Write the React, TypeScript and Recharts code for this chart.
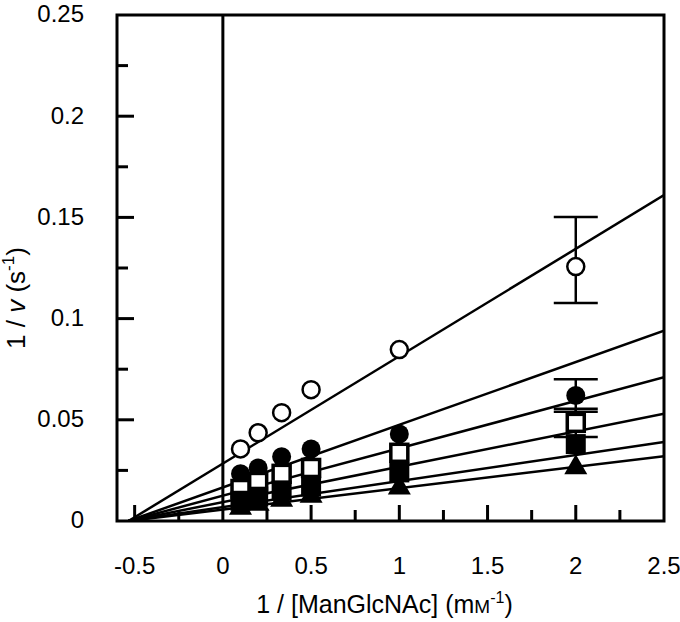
import React from "react";
import { ComposedChart, Line, Scatter, ErrorBar, XAxis, YAxis, ReferenceLine, ReferenceArea } from "recharts";

// substrate concentrations, 1/[S] (mM^-1)
const invS = [0.1, 0.2, 0.333, 0.5, 1, 2];

// 1/v for each inhibitor level (null = error bar hidden by the marker)
// errors are [below, above]
const openCircle = [0.0356, 0.0436, 0.0535, 0.0649, 0.0847, 0.1257];
const openCircleErr = [null, null, null, null, null, [0.018, 0.0245]];
const filledCircle = [0.0233, 0.0262, 0.0317, 0.0356, 0.043, 0.062];
const filledCircleErr = [null, null, null, null, null, [0.008, 0.008]];
const openSquare = [0.0158, 0.0193, 0.0233, 0.0262, 0.0337, 0.0485];
const openSquareErr = [null, null, null, null, null, [0.007, 0.007]];
const filledSquare = [0.01, 0.012, 0.015, 0.017, 0.024, 0.038];
const filledSquareErr = [null, null, null, null, null, null];
const triangle = [0.007, 0.009, 0.011, 0.013, 0.017, 0.027];
const triangleErr = [null, null, null, null, null, null];

// fitted lines: common x-intercept and value at the right edge
const fitXStart = -0.535;
const fitXEnd = 2.5;
const fitEnds = [0.161, 0.094, 0.071, 0.053, 0.039, 0.032];

const xTicks = [-0.5, -0.25, 0, 0.25, 0.5, 0.75, 1, 1.25, 1.5, 1.75, 2, 2.25, 2.5];
const yTicks = [0, 0.025, 0.05, 0.075, 0.1, 0.125, 0.15, 0.175, 0.2, 0.225, 0.25];

const FONT = "'Liberation Sans', Arial, sans-serif";

const toPoints = (ys: number[], errs: any[]) => ys.map((y, i) => ({ x: invS[i], y, err: errs[i] }));

const fitData = fitEnds.map((end) => [
  { x: fitXStart, y: 0 },
  { x: fitXEnd, y: end },
]);

const isMajor = (v: number, step: number) => Math.abs(v / step - Math.round(v / step)) < 1e-6;

const XTick = (props: any) => {
  const { x, y, payload } = props;
  const v = payload.value;
  const major = isMajor(v, 0.5);
  const drawLine = Math.abs(v) > 1e-6 && v < 2.49;
  return (
    <g>
      {drawLine && <line x1={x} x2={x} y1={y} y2={y - (major ? 16 : 11)} stroke="#000" strokeWidth={3} />}
      {major && (
        <text x={x} y={y + 45} textAnchor="middle" dy="0.35em" fontSize={24} fontFamily={FONT} fill="#000">
          {String(v)}
        </text>
      )}
    </g>
  );
};

const YTick = (props: any) => {
  const { x, y, payload } = props;
  const v = payload.value;
  const major = isMajor(v, 0.05);
  const drawLine = v > 1e-6 && v < 0.249;
  return (
    <g>
      {drawLine && <line x1={x} x2={x + (major ? 17 : 11)} y1={y} y2={y} stroke="#000" strokeWidth={3} />}
      {major && (
        <text x={x - 33} y={y - 1} textAnchor="end" dy="0.35em" fontSize={24} fontFamily={FONT} fill="#000">
          {String(v)}
        </text>
      )}
    </g>
  );
};

const XTitle = (props: any) => {
  const vb = props.viewBox;
  return (
    <text x={vb.x + vb.width / 2 - 6} y={vb.y + 83} textAnchor="middle" dy="0.35em" fontSize={25} fontFamily={FONT} fill="#000">
      1 / [ManGlcNAc] (m<tspan fontSize={19}>M</tspan>
      <tspan fontSize={16} dy={-10}>-1</tspan>
      <tspan dy={10}>)</tspan>
    </text>
  );
};

const YTitle = () => {
  const cx = 16;
  const cy = 298;
  return (
    <text x={cx} y={cy} transform={`rotate(-90 ${cx} ${cy})`} textAnchor="middle" dy="0.35em" fontSize={26} fontFamily={FONT} fill="#000">
      1 / <tspan fontStyle="italic">v</tspan> (s<tspan fontSize={17} dy={-11}>-1</tspan>
      <tspan dy={11}>)</tspan>
    </text>
  );
};

const OpenCircle = (p: any) => <circle cx={p.cx} cy={p.cy} r={8.5} fill="#fff" stroke="#000" strokeWidth={2.5} />;
const FilledCircle = (p: any) => <circle cx={p.cx} cy={p.cy} r={9.5} fill="#000" />;
const OpenSquare = (p: any) => (
  <rect x={p.cx - 8.5} y={p.cy - 8.5} width={17} height={17} fill="#fff" stroke="#000" strokeWidth={3.5} />
);
const FilledSquare = (p: any) => <rect x={p.cx - 10} y={p.cy - 10} width={20} height={20} fill="#000" />;
const Triangle = (p: any) => (
  <polygon points={`${p.cx},${p.cy - 12} ${p.cx + 11.5},${p.cy + 8} ${p.cx - 11.5},${p.cy + 8}`} fill="#000" />
);

const series = [
  { name: "open circle", data: toPoints(openCircle, openCircleErr), shape: OpenCircle },
  { name: "filled circle", data: toPoints(filledCircle, filledCircleErr), shape: FilledCircle },
  { name: "open square", data: toPoints(openSquare, openSquareErr), shape: OpenSquare },
  { name: "filled square", data: toPoints(filledSquare, filledSquareErr), shape: FilledSquare },
  { name: "triangle", data: toPoints(triangle, triangleErr), shape: Triangle },
];

export default function App() {
  return (
    <div style={{ position: "absolute", left: 0, top: 0, width: 680, height: 622, background: "#fff" }}>
      <ComposedChart width={680} height={622} margin={{ top: 15, right: 16, bottom: 0, left: 0 }}>
        <XAxis
          type="number"
          dataKey="x"
          domain={[-0.6, 2.5]}
          ticks={xTicks}
          interval={0}
          allowDataOverflow
          height={101}
          axisLine={false}
          tickLine={false}
          tickSize={0}
          tickMargin={0}
          tick={<XTick />}
          label={{ content: <XTitle /> }}
        />
        <YAxis
          type="number"
          dataKey="y"
          domain={[0, 0.25]}
          ticks={yTicks}
          interval={0}
          allowDataOverflow
          width={117}
          axisLine={false}
          tickLine={false}
          tickSize={0}
          tickMargin={0}
          tick={<YTick />}
          label={{ content: <YTitle /> }}
        />
        <ReferenceLine x={0} stroke="#000" strokeWidth={3} />
        {fitData.map((d, i) => (
          <Line
            key={`fit-${i}`}
            data={d}
            dataKey="y"
            type="linear"
            stroke="#000"
            strokeWidth={2.5}
            dot={false}
            activeDot={false}
            isAnimationActive={false}
          />
        ))}
        {series.map((s) => (
          <Scatter key={s.name} data={s.data} dataKey="y" shape={s.shape} isAnimationActive={false}>
            <ErrorBar dataKey="err" direction="y" width={22} stroke="#000" strokeWidth={2.5} />
          </Scatter>
        ))}
        <ReferenceArea x1={-0.6} x2={2.5} y1={0} y2={0.25} fill="none" stroke="#000" strokeWidth={3} ifOverflow="visible" />
      </ComposedChart>
    </div>
  );
}
